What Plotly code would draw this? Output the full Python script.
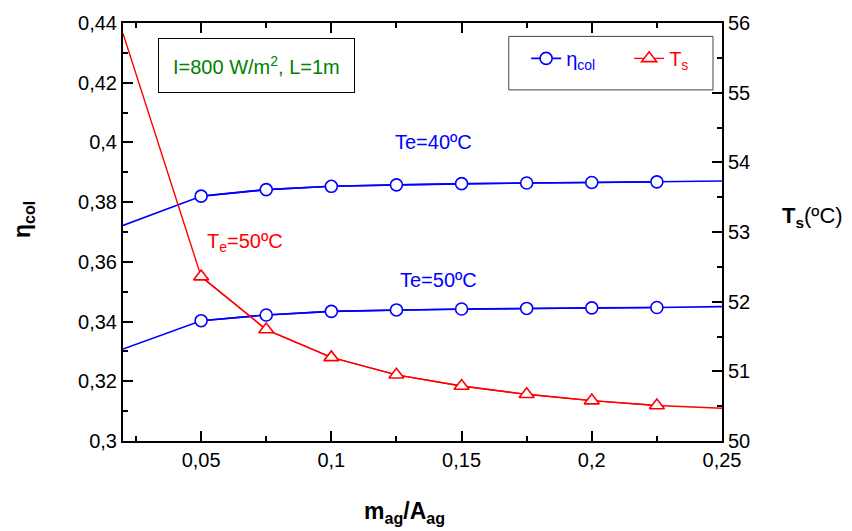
import plotly.graph_objects as go

# datos
m_ag = [0.02, 0.05, 0.075, 0.1, 0.125, 0.15, 0.175, 0.2, 0.225, 0.25]
eta_te40 = [0.3722, 0.3820, 0.3842, 0.3853, 0.3858, 0.3862, 0.3864, 0.3866, 0.3868, 0.3871]
eta_te50 = [0.3308, 0.3403, 0.3422, 0.3434, 0.3439, 0.3442, 0.3444, 0.3446, 0.3447, 0.3450]
ts_te50 = [55.85, 52.36, 51.60, 51.20, 50.95, 50.79, 50.67, 50.58, 50.51, 50.47]

x_ticks = [0.05, 0.1, 0.15, 0.2, 0.25]
x_ticktext = ["0,05", "0,1", "0,15", "0,2", "0,25"]
y_ticks = [0.3, 0.32, 0.34, 0.36, 0.38, 0.4, 0.42, 0.44]
y_ticktext = ["0,3", "0,32", "0,34", "0,36", "0,38", "0,4", "0,42", "0,44"]
y2_ticks = [50, 51, 52, 53, 54, 55, 56]

BLUE = "#0000FF"
RED = "#FF0000"
FONT = "Liberation Sans, Arial, sans-serif"

circ = dict(symbol="circle", size=12, color="white", line=dict(color=BLUE, width=1.6))
tri = dict(symbol="triangle-up", size=13, color="white", line=dict(color=RED, width=1.6))

fig = go.Figure()

# curvas completas (sin marcadores en los extremos)
fig.add_trace(go.Scatter(x=m_ag, y=eta_te40, mode="lines", line=dict(color=BLUE, width=1.6),
                         showlegend=False, hoverinfo="skip"))
fig.add_trace(go.Scatter(x=m_ag, y=eta_te50, mode="lines", line=dict(color=BLUE, width=1.6),
                         showlegend=False, hoverinfo="skip"))
fig.add_trace(go.Scatter(x=m_ag, y=ts_te50, mode="lines", yaxis="y2", line=dict(color=RED, width=1.4),
                         showlegend=False, hoverinfo="skip"))

# marcadores (circulos y triangulos huecos con fondo blanco)
fig.add_trace(go.Scatter(x=m_ag[1:-1], y=eta_te40[1:-1], mode="lines+markers",
                         name="<span style='color:blue'>η<sub>col</sub></span>",
                         line=dict(color=BLUE, width=1.6), marker=circ))
fig.add_trace(go.Scatter(x=m_ag[1:-1], y=eta_te50[1:-1], mode="lines+markers", showlegend=False,
                         line=dict(color=BLUE, width=1.6), marker=circ))
fig.add_trace(go.Scatter(x=m_ag[1:-1], y=ts_te50[1:-1], mode="lines+markers", yaxis="y2",
                         name="<span style='color:red'>T<sub>s</sub></span>",
                         line=dict(color=RED, width=1.4), marker=tri))

axis_common = dict(showgrid=False, zeroline=False, showline=True, linecolor="black", linewidth=2,
                   ticks="inside", tickcolor="black", tickwidth=1.5, ticklen=10, automargin=False,
                   tickfont=dict(family=FONT, size=20, color="black"))

# la pagina tiene 8px de margen en body: figura 844x523 desplazada 8px
fig.update_layout(
    width=844, height=523,
    margin=dict(l=115, r=130, t=15, b=90),
    paper_bgcolor="white", plot_bgcolor="white",
    font=dict(family=FONT, size=20, color="black"),
    xaxis=dict(range=[0.02, 0.25], tickvals=x_ticks, ticktext=x_ticktext, mirror="ticks",
               minor=dict(dtick=0.025, tick0=0, ticks="inside", ticklen=5, tickcolor="black", tickwidth=1.5),
               **axis_common),
    yaxis=dict(range=[0.3, 0.44], tickvals=y_ticks, ticktext=y_ticktext,
               minor=dict(dtick=0.01, tick0=0, ticks="inside", ticklen=5, tickcolor="black", tickwidth=1.5),
               **axis_common),
    yaxis2=dict(range=[50, 56], tickvals=y2_ticks, overlaying="y", side="right",
                minor=dict(dtick=0.5, tick0=0, ticks="inside", ticklen=5, tickcolor="black", tickwidth=1.5),
                **axis_common),
    legend=dict(orientation="h", x=0.673, xanchor="left", y=0.962, yanchor="top",
                bgcolor="rgba(0,0,0,0)", font=dict(family=FONT, size=20),
                entrywidth=58, entrywidthmode="pixels"),
    shapes=[
        dict(type="rect", xref="paper", yref="paper", x0=0.644, x1=0.985, y0=0.840, y1=0.968,
             line=dict(color="#444", width=1), fillcolor="rgba(0,0,0,0)"),
    ],
    annotations=[
        dict(text="<b>η<sub>col</sub></b>", xref="paper", yref="paper", x=-0.166, y=0.53,
             xanchor="center", yanchor="middle", textangle=-90, showarrow=False, font=dict(size=23)),
        dict(text="<b>T<sub>s</sub></b>(ºC)", xref="paper", yref="paper", x=1.097, y=0.535,
             xanchor="left", yanchor="middle", showarrow=False, font=dict(size=22)),
        dict(text="<b>m<sub>ag</sub>/A<sub>ag</sub></b>", xref="paper", yref="paper", x=0.47, y=-0.17,
             xanchor="center", yanchor="middle", showarrow=False, font=dict(size=23)),
        dict(text="I=800 W/m<sup>2</sup>, L=1m", xref="paper", yref="paper", x=0.2237, y=0.8994,
             xanchor="center", yanchor="middle", showarrow=False, font=dict(size=20, color="#008000"),
             bordercolor="black", borderwidth=1, borderpad=14, bgcolor="white"),
        dict(text="Te=40ºC", x=0.1394, y=0.4000, showarrow=False, font=dict(size=20, color=BLUE)),
        dict(text="Te=50ºC", x=0.1413, y=0.3539, showarrow=False, font=dict(size=20, color=BLUE)),
        dict(text="T<sub>e</sub>=50ºC", x=0.0669, y=0.3665, showarrow=False, font=dict(size=20, color=RED)),
    ],
)

fig.write_html("out.html")
